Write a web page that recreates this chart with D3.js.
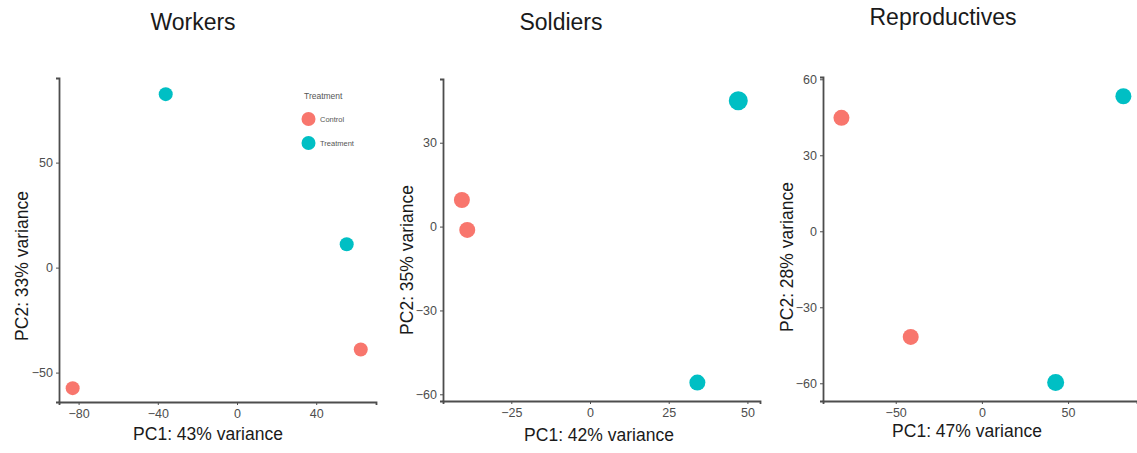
<!DOCTYPE html>
<html>
<head>
<meta charset="utf-8">
<script src="https://cdn.jsdelivr.net/npm/d3@7"></script>
<style>
  body { margin: 0; background: #fff; }
  svg { display: block; font-family: "Liberation Sans", Arial, sans-serif; }
</style>
</head>
<body>
<svg id="chart" width="1137" height="453"></svg>
<script>
// ---- data ----
const groups = ['Control', 'Treatment'];
const groupColors = ['#F8766D', '#00BFC4'];

const panelTitles = ['Workers', 'Soldiers', 'Reproductives'];
const pc1Labels = ['PC1: 43% variance', 'PC1: 42% variance', 'PC1: 47% variance'];
const pc2Labels = ['PC2: 33% variance', 'PC2: 35% variance', 'PC2: 28% variance'];

const workersPoints = [
  { group: 'Control', pc1: -83, pc2: -57.4, size: 7 },
  { group: 'Control', pc1: 62.5, pc2: -39, size: 7 },
  { group: 'Treatment', pc1: -36, pc2: 82.6, size: 7 },
  { group: 'Treatment', pc1: 55.4, pc2: 11.1, size: 7 }
];
const soldiersPoints = [
  { group: 'Control', pc1: -40.7, pc2: 9.5, size: 8 },
  { group: 'Control', pc1: -39, pc2: -1.2, size: 8 },
  { group: 'Treatment', pc1: 47.1, pc2: 45, size: 9.5 },
  { group: 'Treatment', pc1: 34.1, pc2: -55.8, size: 8 }
];
const reproPoints = [
  { group: 'Control', pc1: -81.5, pc2: 44.8, size: 8 },
  { group: 'Control', pc1: -41.3, pc2: -41.7, size: 8 },
  { group: 'Treatment', pc1: 82.1, pc2: 53.3, size: 8 },
  { group: 'Treatment', pc1: 42.8, pc2: -59.7, size: 8.5 }
];

const xTicks = [[-80, -40, 0, 40], [-25, 0, 25, 50], [-50, 0, 50]];
const yTicks = [[-50, 0, 50], [-60, -30, 0, 30], [-60, -30, 0, 30, 60]];
const xDomains = [[-89.9, 70.2], [-46.7, 54], [-92.2, 90]];
const yDomains = [[-64, 90.3], [-62.4, 52.8], [-67, 60.9]];

// ---- layout ----
const panels = [
  { x0: 59, x1: 376, y0: 78, y1: 402, titleX: 193, titleY: 30, pc1X: 208, pc1Y: 440, pc2X: 28, pc2Y: 266, pts: workersPoints },
  { x0: 443, x1: 760, y0: 79, y1: 401, titleX: 561, titleY: 30, pc1X: 599, pc1Y: 441, pc2X: 413, pc2Y: 260, pts: soldiersPoints },
  { x0: 823, x1: 1137, y0: 77, y1: 401, titleX: 943, titleY: 25, pc1X: 967, pc1Y: 437, pc2X: 793, pc2Y: 257, pts: reproPoints }
];

const color = d3.scaleOrdinal().domain(groups).range(groupColors);
const svg = d3.select('#chart');
const axisCol = '#4d4d4d';

panels.forEach((p, i) => {
  const x = d3.scaleLinear().domain(xDomains[i]).range([p.x0, p.x1]);
  const y = d3.scaleLinear().domain(yDomains[i]).range([p.y1, p.y0]);
  const g = svg.append('g');

  const xAxis = g.append('g')
    .attr('transform', `translate(0,${p.y1})`)
    .call(d3.axisBottom(x).tickValues(xTicks[i]).tickSize(3).tickPadding(4)
      .tickFormat(d => d < 0 ? '\u2212' + Math.abs(d) : d));
  const yAxis = g.append('g')
    .attr('transform', `translate(${p.x0},0)`)
    .call(d3.axisLeft(y).tickValues(yTicks[i]).tickSize(3).tickPadding(3)
      .tickFormat(d => d < 0 ? '\u2212' + Math.abs(d) : d));

  [xAxis, yAxis].forEach(a => {
    a.select('.domain').attr('stroke', axisCol).attr('stroke-width', 1.8);
    a.selectAll('.tick line').attr('stroke', axisCol).attr('stroke-width', 1);
    a.selectAll('.tick text').attr('fill', '#4d4d4d').attr('font-size', 12.5)
      .attr('font-family', '"Liberation Sans", Arial, sans-serif');
  });

  g.selectAll('circle.pt')
    .data(p.pts)
    .join('circle')
    .attr('class', 'pt')
    .attr('cx', d => x(d.pc1))
    .attr('cy', d => y(d.pc2))
    .attr('r', d => d.size)
    .attr('fill', d => color(d.group));

  svg.append('text')
    .attr('x', p.titleX).attr('y', p.titleY)
    .attr('text-anchor', 'middle')
    .attr('font-size', 23)
    .attr('fill', '#1a1a1a')
    .text(panelTitles[i]);

  svg.append('text')
    .attr('x', p.pc1X).attr('y', p.pc1Y)
    .attr('text-anchor', 'middle')
    .attr('font-size', 17.5)
    .attr('fill', '#1a1a1a')
    .text(pc1Labels[i]);

  svg.append('text')
    .attr('transform', `translate(${p.pc2X},${p.pc2Y}) rotate(-90)`)
    .attr('text-anchor', 'middle')
    .attr('font-size', 17.5)
    .attr('fill', '#1a1a1a')
    .text(pc2Labels[i]);
});

// legend (inside Workers panel)
const legend = svg.append('g').attr('transform', 'translate(304,0)');
legend.append('text')
  .attr('x', 0).attr('y', 99)
  .attr('font-size', 8.5)
  .attr('fill', '#555')
  .text('Treatment');
const items = legend.selectAll('g.item')
  .data(groups)
  .join('g')
  .attr('class', 'item')
  .attr('transform', (d, i) => `translate(0,${119 + i * 24})`);
items.append('circle')
  .attr('cx', 4.5).attr('cy', 0).attr('r', 7)
  .attr('fill', d => color(d));
items.append('text')
  .attr('x', 16).attr('y', 0).attr('dy', '0.35em')
  .attr('font-size', 7.5)
  .attr('fill', '#555')
  .text(d => d);
</script>
</body>
</html>
